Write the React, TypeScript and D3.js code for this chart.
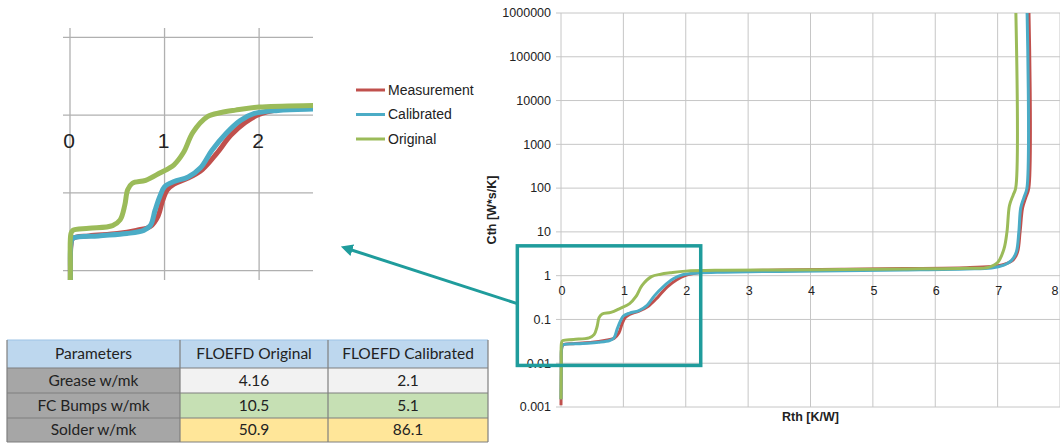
import * as d3 from "d3";

// structure function data (Rth [K/W], Cth [W*s/K])
const measurementRth = [0, 0.004, 0.01, 0.03, 0.2, 0.5, 0.7, 0.85, 0.93, 0.98, 1.03, 1.1, 1.25, 1.4, 1.55, 1.7, 1.85, 2.0, 2.2, 2.6, 3.5, 4.5, 5.5, 6.5, 6.9, 7.1, 7.25, 7.32, 7.36, 7.4, 7.45, 7.5, 7.5];
const measurementCth = [0.0011, 0.006, 0.021, 0.026, 0.028, 0.03, 0.033, 0.037, 0.05, 0.08, 0.11, 0.13, 0.155, 0.2, 0.32, 0.55, 0.8, 1.02, 1.17, 1.27, 1.34, 1.4, 1.45, 1.52, 1.62, 1.8, 2.3, 3.5, 10, 35, 60, 100, 1.5e6];

const calibratedRth = [0, 0.004, 0.01, 0.03, 0.3, 0.6, 0.78, 0.85, 0.9, 0.95, 1.0, 1.1, 1.25, 1.38, 1.5, 1.65, 1.8, 1.95, 2.2, 2.6, 3.5, 4.5, 5.5, 6.5, 6.9, 7.1, 7.22, 7.3, 7.34, 7.37, 7.42, 7.47, 7.47];
const calibratedCth = [0.0015, 0.008, 0.022, 0.026, 0.028, 0.03, 0.033, 0.038, 0.06, 0.09, 0.12, 0.14, 0.16, 0.21, 0.35, 0.58, 0.85, 1.05, 1.15, 1.2, 1.25, 1.3, 1.35, 1.42, 1.5, 1.75, 2.2, 3.5, 10, 35, 60, 100, 1.5e6];

const originalRth = [0, 0.004, 0.01, 0.03, 0.2, 0.45, 0.53, 0.58, 0.61, 0.66, 0.8, 0.95, 1.1, 1.2, 1.3, 1.45, 1.6, 1.75, 2.0, 2.6, 3.5, 4.5, 5.5, 6.5, 6.85, 7.0, 7.1, 7.15, 7.19, 7.25, 7.29, 7.29];
const originalCth = [0.0015, 0.01, 0.03, 0.033, 0.035, 0.038, 0.045, 0.07, 0.11, 0.133, 0.145, 0.18, 0.23, 0.33, 0.6, 0.95, 1.08, 1.16, 1.27, 1.33, 1.35, 1.38, 1.42, 1.48, 1.55, 2.0, 4, 10, 40, 70, 100, 1.5e6];

const seriesNames = ["Measurement", "Calibrated", "Original"];
const seriesColors = ["#c0504d", "#4bacc6", "#9bbb59"];

const xTicks = [0, 1, 2, 3, 4, 5, 6, 7, 8];
const yTicks = [0.001, 0.01, 0.1, 1, 10, 100, 1000, 10000, 100000, 1000000];
const yTickLabels = ["0.001", "0.01", "0.1", "1", "10", "100", "1000", "10000", "100000", "1000000"];

const insetXTicks = [0, 1, 2];
const insetYTicks = [0.01, 0.1, 1, 10];

// zoomed region marked on the main chart
const zoomRth = [-0.7, 2.24];
const zoomCth = [0.0089, 4.8];

const tableHeader = ["Parameters", "FLOEFD Original", "FLOEFD Calibrated"];
const tableParams = ["Grease w/mk", "FC Bumps w/mk", "Solder w/mk"];
const tableOriginal = ["4.16", "10.5", "50.9"];
const tableCalibrated = ["2.1", "5.1", "86.1"];

const rowColors = ["#f2f2f2", "#c6e0b4", "#ffe699"];

const series = [
  { rth: measurementRth, cth: measurementCth },
  { rth: calibratedRth, cth: calibratedCth },
  { rth: originalRth, cth: originalCth },
];

const font = "'Liberation Sans', Arial, sans-serif";
const gridColor = "#c6c6c6";
const teal = "#1f9c9c";

export default function App() {
  // main chart scales
  const x = d3.scaleLinear().domain([0, 8]).range([561, 1060]);
  const y = d3.scaleLog().domain([0.001, 1e6]).range([407, 13]);

  // inset scales
  const xi = d3.scaleLinear().domain([-0.074, 2.57]).range([63, 313]);
  const yi = d3.scaleLog().domain([Math.pow(10, -2.12), Math.pow(10, 1.12)]).range([280, 28]);

  const mainLine = d3
    .line<[number, number]>()
    .x((d) => x(d[0]))
    .y((d) => y(d[1]))
    .curve(d3.curveCatmullRom.alpha(0.5));
  const insetLine = d3
    .line<[number, number]>()
    .x((d) => xi(d[0]))
    .y((d) => yi(d[1]))
    .curve(d3.curveCatmullRom.alpha(0.5));

  const pts = (s: { rth: number[]; cth: number[] }) =>
    s.rth.map((r, i) => [r, s.cth[i]] as [number, number]);

  const boxX0 = x(zoomRth[0]);
  const boxX1 = x(zoomRth[1]);
  const boxY0 = y(zoomCth[1]);
  const boxY1 = y(zoomCth[0]);
  const arrowStartY = y(0.23);

  const colX = [7, 180, 328, 488];
  const rowY = [340, 368, 393, 418, 442];

  return (
    <svg
      width={1060}
      height={445}
      style={{ position: "absolute", left: 0, top: 0, background: "#fff" }}
    >
      <defs>
        <clipPath id="mainClip">
          <rect x={556} y={13} width={504} height={394} />
        </clipPath>
        <clipPath id="insetClip">
          <rect x={63} y={28} width={250} height={252} />
        </clipPath>
        <marker id="arrowHead" viewBox="0 0 10 10" refX={2} refY={5} markerWidth={4} markerHeight={4} orient="auto-start-reverse">
          <path d="M0,0 L10,5 L0,10 z" fill={teal} />
        </marker>
      </defs>

      {/* ---------- main chart ---------- */}
      <g>
        {xTicks.map((t) => (
          <line key={"vx" + t} x1={x(t)} x2={x(t)} y1={13} y2={407} stroke={gridColor} />
        ))}
        {yTicks.map((t) => (
          <line key={"hy" + t} x1={556} x2={1060} y1={y(t)} y2={y(t)} stroke={gridColor} />
        ))}
        {yTicks.map((t, i) => (
          <text key={"ly" + t} x={551} y={y(t)} dy="0.35em" textAnchor="end" fontFamily={font} fontSize={12.5} fill="#222">
            {yTickLabels[i]}
          </text>
        ))}
        {xTicks.map((t) => (
          <text
            key={"lx" + t}
            x={t === 8 ? x(t) - 5 : x(t) + 1}
            y={y(1) + 15}
            dy="0.35em"
            textAnchor="middle"
            fontFamily={font}
            fontSize={12.5}
            fill="#222"
          >
            {t}
          </text>
        ))}
        <text x={x(4)} y={417} dy="0.35em" textAnchor="middle" fontFamily={font} fontSize={12.5} fontWeight="bold" fill="#222">
          Rth [K/W]
        </text>
        <text
          transform={`translate(492, 210) rotate(-90)`}
          dy="0.35em"
          textAnchor="middle"
          fontFamily={font}
          fontSize={12.5}
          fontWeight="bold"
          fill="#222"
        >
          Cth [W*s/K]
        </text>
        <g clipPath="url(#mainClip)">
          {series.map((s, i) => (
            <path key={"m" + i} d={mainLine(pts(s)) || ""} fill="none" stroke={seriesColors[i]} strokeWidth={3} strokeLinejoin="round" />
          ))}
        </g>
      </g>

      {/* zoom box and arrow */}
      <rect x={boxX0} y={boxY0} width={boxX1 - boxX0} height={boxY1 - boxY0} fill="none" stroke={teal} strokeWidth={3.5} />
      <line
        x1={boxX0}
        y1={arrowStartY}
        x2={350}
        y2={249.5}
        stroke={teal}
        strokeWidth={3}
        markerEnd="url(#arrowHead)"
      />

      {/* ---------- inset chart ---------- */}
      <g>
        {insetXTicks.map((t) => (
          <line key={"ivx" + t} x1={xi(t)} x2={xi(t)} y1={28} y2={280} stroke="#b0b0b0" strokeWidth={1.3} />
        ))}
        {insetYTicks.map((t) => (
          <line key={"ihy" + t} x1={63} x2={313} y1={yi(t)} y2={yi(t)} stroke="#b0b0b0" strokeWidth={1.3} />
        ))}
        <g clipPath="url(#insetClip)">
          {series.map((s, i) => (
            <path key={"i" + i} d={insetLine(pts(s)) || ""} fill="none" stroke={seriesColors[i]} strokeWidth={5} strokeLinejoin="round" />
          ))}
        </g>
        {insetXTicks.map((t) => (
          <text key={"ilx" + t} x={xi(t) - 1} y={yi(1) + 26} dy="0.35em" textAnchor="middle" fontFamily={font} fontSize={21} fill="#222">
            {t}
          </text>
        ))}
      </g>

      {/* legend */}
      {seriesNames.map((n, i) => (
        <g key={n} transform={`translate(356, ${90 + i * 24.5})`}>
          <line x1={0} x2={29} y1={0} y2={0} stroke={seriesColors[i]} strokeWidth={3} />
          <text x={32} y={0} dy="0.35em" fontFamily={font} fontSize={14} fill="#222">
            {n}
          </text>
        </g>
      ))}

      {/* ---------- parameter table ---------- */}
      <g fontFamily="Lato, 'Open Sans', sans-serif" fontSize={15.5} fill="#222">
        {tableHeader.map((h, c) => (
          <g key={"h" + c}>
            <rect x={colX[c]} y={rowY[0]} width={colX[c + 1] - colX[c]} height={rowY[1] - rowY[0]} fill="#bdd7ee" />
            <text x={(colX[c] + colX[c + 1]) / 2} y={(rowY[0] + rowY[1]) / 2} dy="0.35em" textAnchor="middle">
              {h}
            </text>
          </g>
        ))}
        {tableParams.map((p, r) => {
          const cells = [p, tableOriginal[r], tableCalibrated[r]];
          return (
            <g key={"r" + r}>
              {cells.map((v, c) => (
                <g key={c}>
                  <rect
                    x={colX[c]}
                    y={rowY[r + 1]}
                    width={colX[c + 1] - colX[c]}
                    height={rowY[r + 2] - rowY[r + 1]}
                    fill={c === 0 ? "#a6a6a6" : rowColors[r]}
                  />
                  <text x={(colX[c] + colX[c + 1]) / 2} y={(rowY[r + 1] + rowY[r + 2]) / 2} dy="0.35em" textAnchor="middle">
                    {v}
                  </text>
                </g>
              ))}
            </g>
          );
        })}
        {rowY.map((ry, i) => (
          <line key={"tr" + i} x1={colX[0]} x2={colX[3]} y1={ry} y2={ry} stroke={i === 0 ? "#9dc3e6" : "#7f7f7f"} strokeWidth={1.2} />
        ))}
        {colX.map((cx, i) => (
          <line key={"tc" + i} x1={cx} x2={cx} y1={rowY[0]} y2={rowY[4]} stroke="#7f7f7f" strokeWidth={1.2} />
        ))}
      </g>
    </svg>
  );
}
